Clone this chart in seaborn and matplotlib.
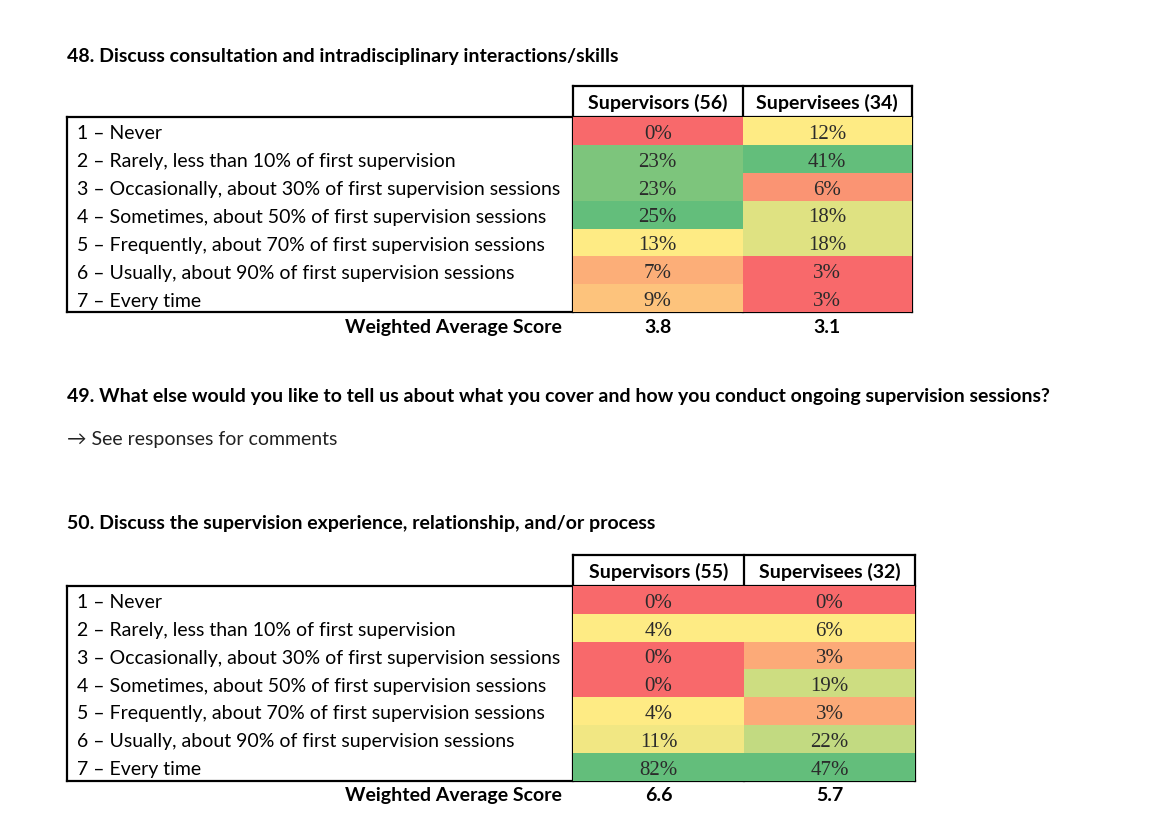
"""Survey frequency tables (Q48 / Q50) as per-column colour-scaled heatmaps."""

import matplotlib.pyplot as plt
import matplotlib.transforms as mtransforms
import numpy as np
import pandas as pd
import seaborn as sns
from matplotlib.colors import LinearSegmentedColormap

# ---- data -------------------------------------------------------------
row_labels = [
    "1 \u2013 Never",
    "2 \u2013 Rarely, less than 10% of first supervision",
    "3 \u2013 Occasionally, about 30% of first supervision sessions",
    "4 \u2013 Sometimes, about 50% of first supervision sessions",
    "5 \u2013 Frequently, about 70% of first supervision sessions",
    "6 \u2013 Usually, about 90% of first supervision sessions",
    "7 \u2013 Every time",
]

q48_title = "48. Discuss consultation and intradisciplinary interactions/skills"
q48_columns = ["Supervisors (56)", "Supervisees (34)"]
q48_supervisors = [0, 23, 23, 25, 13, 7, 9]
q48_supervisees = [12, 41, 6, 18, 18, 3, 3]
q48_weighted = ["3.8", "3.1"]

q49_title = ("49. What else would you like to tell us about what you cover "
             "and how you conduct ongoing supervision sessions?")
q49_note = "\u2192 See responses for comments"

q50_title = "50. Discuss the supervision experience, relationship, and/or process"
q50_columns = ["Supervisors (55)", "Supervisees (32)"]
q50_supervisors = [0, 4, 0, 0, 4, 11, 82]
q50_supervisees = [0, 6, 3, 19, 3, 22, 47]
q50_weighted = ["6.6", "5.7"]

# Excel-style 3-colour scale: red (min) - yellow (median) - green (max)
scale_cmap = LinearSegmentedColormap.from_list(
    "excel_ryg", ["#F8696B", "#FFEB84", "#63BE7B"])

W, H = 1162, 833
LABEL_FONT = ["Lato", "DejaVu Sans"]
CELL_FONT = ["Liberation Serif", "DejaVu Serif"]
FS = 14


def scale_column(values):
    v = np.asarray(values, dtype=float)
    lo, mid, hi = v.min(), np.percentile(v, 50), v.max()
    out = np.empty_like(v)
    for i, x in enumerate(v):
        if x <= mid:
            out[i] = 0.0 if mid == lo else 0.5 * (x - lo) / (mid - lo)
        else:
            out[i] = 0.5 + 0.5 * (x - mid) / (hi - mid)
    return out


def draw_table(fig, overlay, top, columns, sup, sve, weighted,
               left=67, hm_left=573, hm_right=912, header_h=31, row_h=27.9):
    df = pd.DataFrame({columns[0]: sup, columns[1]: sve}, index=row_labels)
    scaled = df.apply(scale_column)
    annot = df.map(lambda x: f"{x}%")

    body_top = top + header_h
    body_h = row_h * len(df)
    ax = fig.add_axes([hm_left / W, 1 - (body_top + body_h) / H,
                       (hm_right - hm_left) / W, body_h / H])
    sns.heatmap(scaled, ax=ax, cmap=scale_cmap, vmin=0, vmax=1, cbar=False,
                annot=annot, fmt="", linewidths=0,
                annot_kws={"fontsize": 15, "color": "#2b2b2b",
                           "family": CELL_FONT})
    # nudge the cell numbers down a touch, like the original
    for t in ax.texts:
        x, y = t.get_position()
        t.set_position((x, y + 0.12))
    ax.set_xticks([])
    ax.set_yticks([])
    ax.set_xlabel("")
    ax.set_ylabel("")

    # row labels: x in figure pixels, y in heatmap rows
    trans = mtransforms.blended_transform_factory(overlay.transData, ax.transData)
    for i, lab in enumerate(df.index):
        ax.text(77, i + 0.6, lab, transform=trans, ha="left", va="center",
                fontsize=FS, family=LABEL_FONT, color="black", clip_on=False)

    # header texts
    col_w = (hm_right - hm_left) / 2
    for j, name in enumerate(df.columns):
        overlay.text(hm_left + col_w * (j + 0.5), top + header_h / 2 + 1, name,
                     ha="center", va="center", fontsize=FS, fontweight="bold",
                     family=LABEL_FONT)

    # borders
    bottom = body_top + body_h
    lw = 1.6
    seg = [
        ([hm_left, hm_right], [top, top]),
        ([left, hm_right], [body_top, body_top]),
        ([left, hm_right], [bottom, bottom]),
        ([left, left], [body_top, bottom]),
        ([hm_left, hm_left], [top, bottom]),
        ([hm_left + col_w, hm_left + col_w], [top, bottom]),
        ([hm_right, hm_right], [top, bottom]),
    ]
    for xs, ys in seg:
        overlay.plot(xs, ys, color="black", lw=lw, solid_capstyle="projecting")

    # weighted average row
    wy = bottom + 15
    overlay.text(562, wy, "Weighted Average Score", ha="right", va="center",
                 fontsize=FS, fontweight="bold", family=LABEL_FONT)
    for j, val in enumerate(weighted):
        overlay.text(hm_left + col_w * (j + 0.5), wy, val, ha="center",
                     va="center", fontsize=FS, fontweight="bold",
                     family=LABEL_FONT)


fig = plt.figure(figsize=(W / 100, H / 100), dpi=100)
fig.patch.set_facecolor("white")
overlay = fig.add_axes([0, 0, 1, 1])
overlay.set_xlim(0, W)
overlay.set_ylim(H, 0)
overlay.axis("off")

overlay.text(67, 56, q48_title, ha="left", va="center", fontsize=FS,
             fontweight="bold", family=LABEL_FONT)
draw_table(fig, overlay, 86, q48_columns, q48_supervisors, q48_supervisees,
           q48_weighted)

overlay.text(67, 396, q49_title, ha="left", va="center", fontsize=FS,
             fontweight="bold", family=LABEL_FONT)
overlay.text(67, 439, q49_note, ha="left", va="center", fontsize=FS,
             family=LABEL_FONT, color="#222222")

overlay.text(67, 524, q50_title, ha="left", va="center", fontsize=FS,
             fontweight="bold", family=LABEL_FONT)
draw_table(fig, overlay, 555, q50_columns, q50_supervisors, q50_supervisees,
           q50_weighted, hm_right=915, row_h=27.8)

fig.savefig("out.png", dpi=100, facecolor="white")
